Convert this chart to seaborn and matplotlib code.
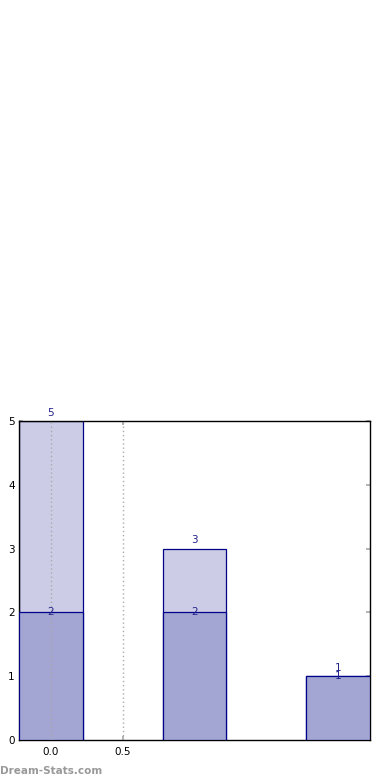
import matplotlib
matplotlib.use("Agg")
import matplotlib.pyplot as plt
import seaborn as sns
import pandas as pd

categories = ["A", "B", "C"]
totals = [5, 3, 1]
inner = [2, 2, 1]
xtick_values = [0.0, 0.5]
xtick_labels = ["0.0", "0.5"]
ytick_values = [0, 1, 2, 3, 4, 5]

sns.set_theme(style="white")
plt.rcParams['font.family'] = ['DejaVu Sans']

df = pd.DataFrame({"cat": categories, "total": totals, "inner": inner})

fig = plt.figure(figsize=(3.9, 7.8), dpi=100)
ax = fig.add_axes([19/390, 1 - 740/780, (370 - 19)/390, (740 - 421)/780])

w = 0.4444
sns.barplot(data=df, x="cat", y="total", ax=ax, width=w, color="#cccce6",
            saturation=1, edgecolor="#000088", linewidth=0.9, zorder=2)
sns.barplot(data=df, x="cat", y="inner", ax=ax, width=w, color="#a3a5d2",
            saturation=1, edgecolor="#000088", linewidth=0.9, zorder=3)

txtc = "#22228a"
for i, (t, v) in enumerate(zip(totals, inner)):
    ax.text(i, t + 0.05, str(t), ha="center", va="bottom", fontsize=7.5,
            color=txtc, zorder=5)
    ax.text(i, v - 0.07, str(v), ha="center", va="bottom", fontsize=7.5,
            color=txtc, zorder=5)

ax.set_xlim(-0.222, 2.222)
ax.set_ylim(0, 5)
ax.set_xticks(xtick_values)
ax.set_xticklabels(xtick_labels)
ax.set_yticks(ytick_values)
ax.set_xlabel("")
ax.set_ylabel("")
for xv in xtick_values:
    ax.axvline(xv, color="#aaaaaa", linestyle=(0, (1, 2)), linewidth=1.0, zorder=4)

for s in ax.spines.values():
    s.set_visible(True)
    s.set_color("black")
    s.set_linewidth(1.0)
ax.tick_params(axis="both", which="both", direction="in", length=3,
               color="#aaaaaa", labelsize=7.5, labelcolor="black", pad=3,
               top=True, right=True, bottom=True, left=True)
ax.tick_params(axis="x", pad=5)

fig.text(0.0, 1 - 771/780, "Dream-Stats.com", ha="left", va="center",
         fontsize=7.5, color="#999999", fontweight="bold")

fig.savefig("out.png", dpi=100)
